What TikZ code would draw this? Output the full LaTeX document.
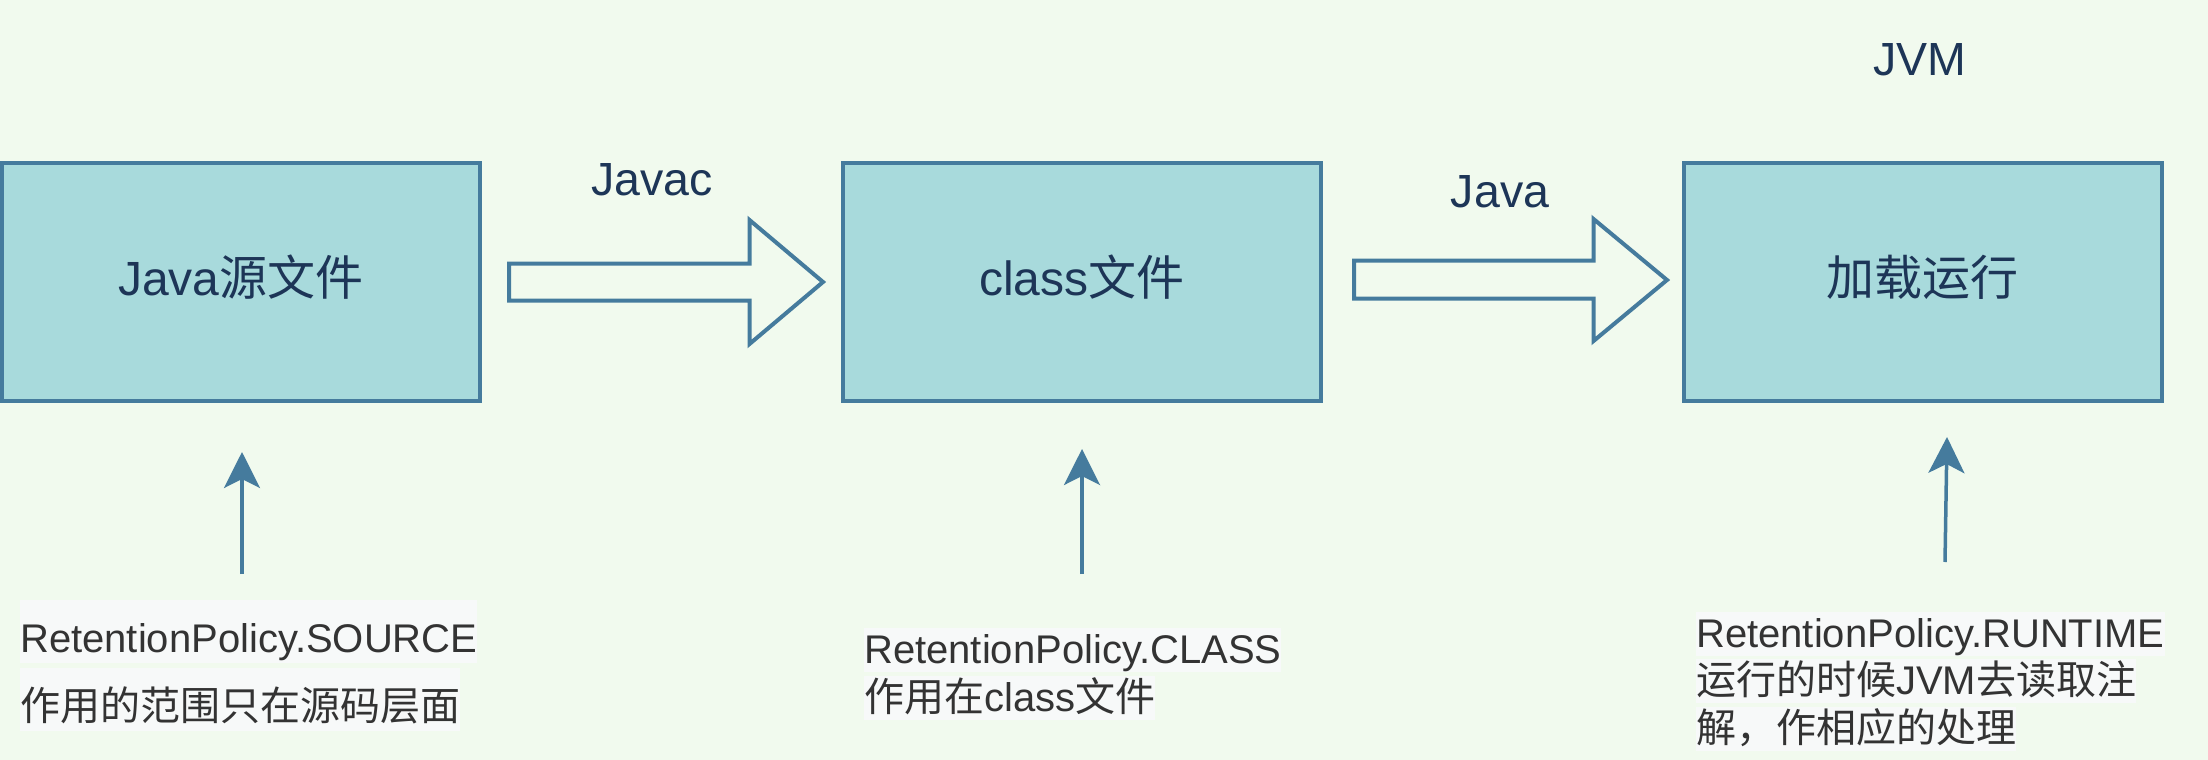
\documentclass[tikz,border=0pt]{standalone}
\usepackage{fontspec}
\setmainfont{Liberation Sans}
\newfontfamily\zhfont{Noto Sans CJK SC}
\newcommand{\zh}[1]{{\zhfont #1}}
\usetikzlibrary{arrows.meta}
\definecolor{bgc}{HTML}{F1FAEE}
\definecolor{boxfill}{HTML}{A8DADC}
\definecolor{edge}{HTML}{457B9D}
\definecolor{navy}{HTML}{1D3557}
\definecolor{hlgray}{HTML}{F7F9F9}
\definecolor{darktext}{HTML}{333333}
\begin{document}
\begin{tikzpicture}[x=1pt,y=-1pt,
  stagebox/.style={draw=edge, line width=4pt, fill=boxfill, minimum width=478pt, minimum height=238pt,
    inner sep=0pt, text=navy, font=\fontsize{48}{52}\selectfont, text height=28pt, text depth=0pt},
  lbl/.style={text=navy, font=\fontsize{46.5}{50}\selectfont, inner sep=0pt, anchor=base},
  note/.style={fill=hlgray, text=darktext, inner sep=0pt, anchor=base west,
    font=\fontsize{40}{44}\selectfont, text height=35pt, text depth=9pt},
  tallnote/.style={note, text height=52pt, text depth=11pt},
  blockarrow/.style={draw=edge, line width=4pt, line join=miter},
  uparrow/.style={draw=edge, line width=3.5pt, -{Stealth[length=36pt, width=36pt, inset=9pt]}}
]
\fill[bgc] (0,0) rectangle (2208,760);
\useasboundingbox (0,0) rectangle (2208,760);

% stage boxes
\node[stagebox] (b1) at (241,281.5) {Java\zh{源文件}};
\node[stagebox] (b2) at (1082,281.5) {class\zh{文件}};
\node[stagebox] (b3) at (1922.5,281.5) {\zh{加载运行}};

% labels
\node[lbl] (javac) at (652,195) {Javac};
\node[lbl] (java) at (1500,207) {Java};
\node[lbl] (jvm) at (1920,76) {JVM};

% block arrows
\draw[blockarrow] (509,263.5) -- (749.5,263.5) -- (749.5,220) -- (823,282) -- (749.5,344) -- (749.5,300.5) -- (509,300.5) -- cycle;
\draw[blockarrow] (1354,260.5) -- (1593.5,260.5) -- (1593.5,219) -- (1667,280) -- (1593.5,341) -- (1593.5,298.5) -- (1354,298.5) -- cycle;

% notes
\node[tallnote] (s1) at (20,652) {RetentionPolicy.SOURCE};
\node[tallnote] (s2) at (20,720) {\zh{作用的范围只在源码层面}};
\node[note] (c1) at (864,663) {RetentionPolicy.CLASS};
\node[note] (c2) at (864,711) {\zh{作用在}class\zh{文件}};
\node[note] (r1) at (1696,647) {RetentionPolicy.RUNTIME};
\node[note] (r2) at (1696,694) {\zh{运行的时候}JVM\zh{去读取注}};
\node[note] (r3) at (1696,742) {\zh{解，作相应的处理}};

% up arrows
\coordinate (a1s) at (242,574);
\coordinate (a1e) at (242,452);
\coordinate (a2s) at (1082,574);
\coordinate (a2e) at (1082,449);
\coordinate (a3s) at (1945,562);
\coordinate (a3e) at (1947,437);
\draw[uparrow] (a1s) -- (a1e);
\draw[uparrow] (a2s) -- (a2e);
\draw[uparrow] (a3s) -- (a3e);
\end{tikzpicture}
\end{document}
